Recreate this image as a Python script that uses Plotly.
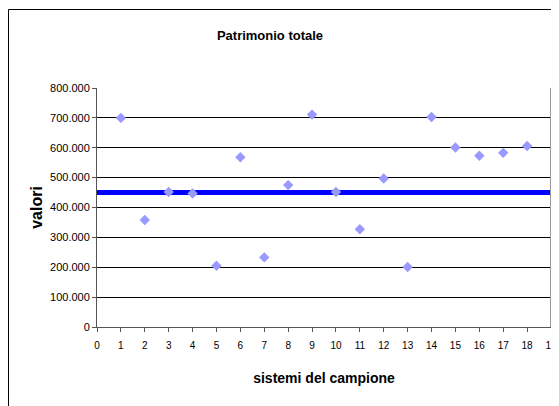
import plotly.graph_objects as go

sistemi = list(range(1, 19))
valori = [700000, 358000, 452000, 447000, 205000, 568000, 233000, 475000, 711000,
          452000, 327000, 497000, 201000, 703000, 601000, 573000, 583000, 606000]
soglia = 450000
x_range = [0, 19]
y_range = [0, 800000]

# the page body adds an 8px offset, so the figure is sized to the visible area
W, H = 551, 398
L, R, T, B = 89, 8, 80, 79
pw, ph = W - L - R, H - T - B

def px(xp):
    return (xp - L) / pw

def py(yp):
    return (H - B - yp) / ph

fig = go.Figure()
fig.add_trace(go.Scatter(x=x_range, y=[soglia, soglia], mode="lines",
                         line=dict(color="#0000FF", width=5), hoverinfo="skip",
                         showlegend=False))
fig.add_trace(go.Scatter(x=sistemi, y=valori, mode="markers",
                         marker=dict(symbol="diamond", size=8, color="#9999FF",
                                     line=dict(width=0)),
                         showlegend=False))

fig.add_shape(type="rect", xref="paper", yref="paper",
              x0=px(0.5), y0=py(410), x1=px(560), y1=py(1.5),
              line=dict(color="black", width=1), fillcolor="rgba(0,0,0,0)", layer="below")

fig.update_layout(
    width=W, height=H,
    margin=dict(l=L, r=R, t=T, b=B, autoexpand=False),
    paper_bgcolor="white", plot_bgcolor="white",
    separators=",.",
    font=dict(family="Arial, Liberation Sans, sans-serif", color="black"),
    title=dict(text="<b>Patrimonio totale</b>", xref="container", x=262 / W, xanchor="center",
               yref="container", y=1 - 27 / H, yanchor="middle", font=dict(size=13)),
)
fig.update_xaxes(range=x_range, dtick=1, tick0=0, showgrid=False, zeroline=False,
                 automargin=False,
                 showline=True, linecolor="#555555", linewidth=1,
                 ticks="outside", ticklen=4, tickcolor="#555555",
                 ticklabelstandoff=5,
                 tickfont=dict(size=10, family="Liberation Sans Narrow, Arial Narrow, Arial"),
                 title=dict(text="<b>sistemi del campione</b>", font=dict(size=14), standoff=23),
                 mirror=False)
fig.update_yaxes(range=y_range, dtick=100000, tickformat=",d", showgrid=True,
                 automargin=False,
                 gridcolor="black", gridwidth=1, zeroline=False,
                 showline=True, linecolor="#555555", linewidth=1,
                 ticks="outside", ticklen=4, tickcolor="#555555",
                 tickfont=dict(size=11),
                 title=dict(text="<b>valori</b>", font=dict(size=16), standoff=3))
fig.add_shape(type="line", xref="paper", yref="paper", x0=1, x1=1, y0=0, y1=1,
              line=dict(color="#999999", width=2))

fig.write_html("out.html")
